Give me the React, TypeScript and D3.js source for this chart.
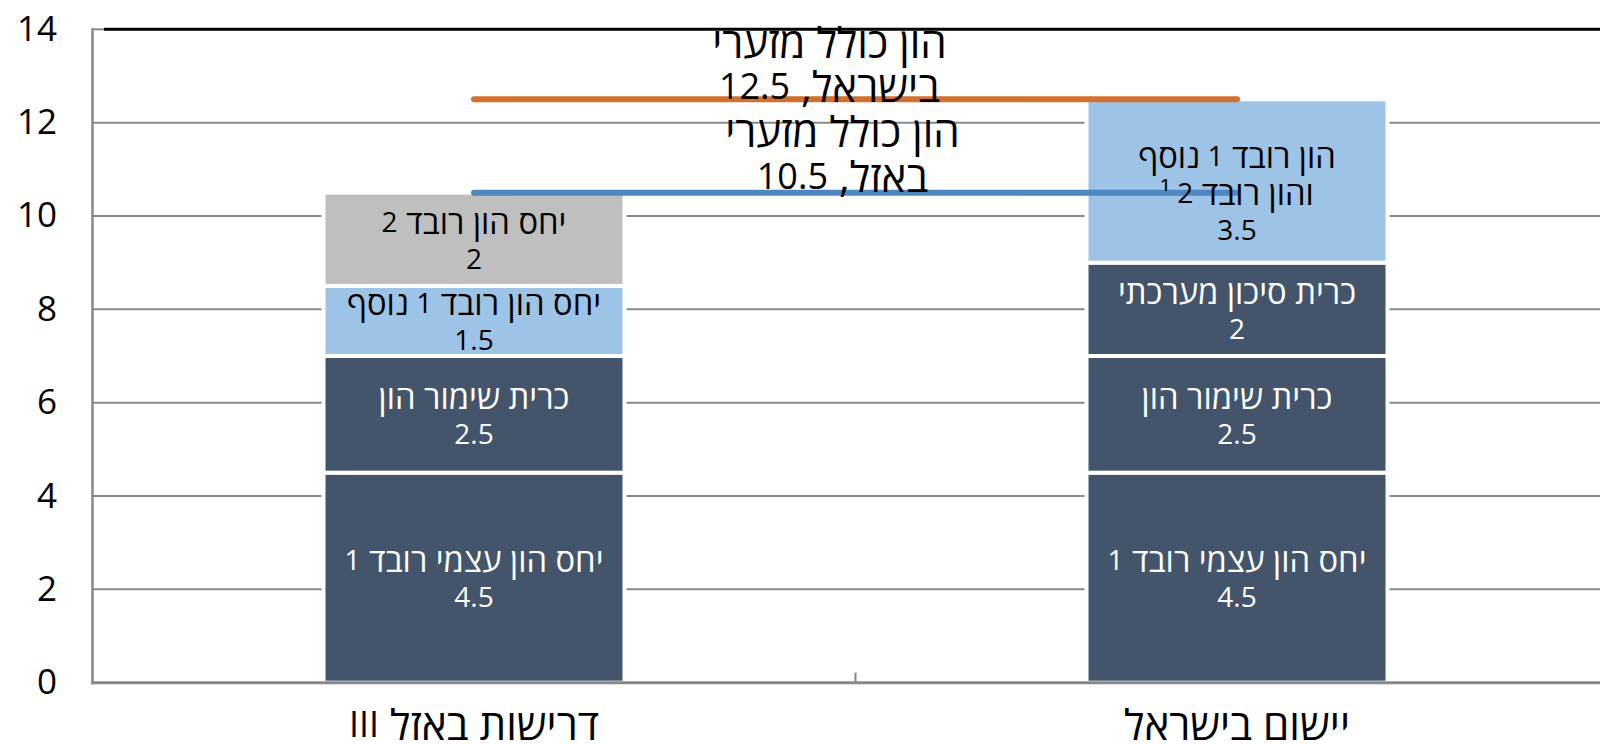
import React from "react";
import * as d3 from "d3";

const categories = ["דרישות באזל III", "יישום בישראל"];
const segmentsBasel = [4.5, 2.5, 1.5, 2];
const segmentsIsrael = [4.5, 2.5, 2, 3.5];
const labelsBasel = [
  ["יחס הון עצמי רובד 1", "4.5"],
  ["כרית שימור הון", "2.5"],
  ["יחס הון רובד 1 נוסף", "1.5"],
  ["יחס הון רובד 2", "2"],
];
const labelsIsrael = [
  ["יחס הון עצמי רובד 1", "4.5"],
  ["כרית שימור הון", "2.5"],
  ["כרית סיכון מערכתי", "2"],
  ["הון רובד 1 נוסף", "והון רובד 2 \u00B9", "3.5"],
];
const colorsBasel = ["#44546A", "#44546A", "#9DC3E6", "#BFBFBF"];
const colorsIsrael = ["#44546A", "#44546A", "#44546A", "#9DC3E6"];
const textColorsBasel = ["#fff", "#fff", "#000", "#000"];
const textColorsIsrael = ["#fff", "#fff", "#fff", "#000"];
const refValues = [12.5, 10.5];
const refLabels = [
  ["הון כולל מזערי", "בישראל, 12.5"],
  ["הון כולל מזערי", "באזל, 10.5"],
];
const refColors = ["#D2702F", "#4E88BF"];
const yTicks = [0, 2, 4, 6, 8, 10, 12, 14];

// label placement styles (offsets from the line's y / from the midpoint)
const refLabelDx = [-26, -13];
const refLabelDy = [
  [-58, -14],
  [-63, -18],
];

const W = 1600;
const H = 744;
const FONT = "'Open Sans', 'Liberation Sans', sans-serif";
const HEB_SCALE = 1.17;

function mixed(str: string, latinSize: number) {
  const parts = str.match(/[\u0590-\u05FF][\u0590-\u05FF ,]*|[^\u0590-\u05FF]+/g) || [str];
  return parts.map((p, i) => {
    const heb = /[\u0590-\u05FF]/.test(p);
    return (
      <tspan key={i} fontSize={heb ? latinSize * HEB_SCALE : latinSize}>
        {p}
      </tspan>
    );
  });
}

export default function App() {
  const y = d3.scaleLinear().domain([0, 14]).range([682.7, 29.3]);
  const x = d3
    .scaleBand<string>()
    .domain(categories)
    .range([92.5, 1618.5])
    .paddingInner(0.6055)
    .paddingOuter(0.30275);
  const bw = x.bandwidth();
  const stacks = [
    { cat: categories[0], vals: segmentsBasel, labels: labelsBasel, colors: colorsBasel, tc: textColorsBasel },
    { cat: categories[1], vals: segmentsIsrael, labels: labelsIsrael, colors: colorsIsrael, tc: textColorsIsrael },
  ];
  const c0 = (x(categories[0]) as number) + bw / 2;
  const c1 = (x(categories[1]) as number) + bw / 2;
  const mid = (c0 + c1) / 2;
  const lh = 37;

  return (
    <svg
      width={W}
      height={H}
      style={{ position: "absolute", left: 0, top: 0, fontFamily: FONT }}
    >
      <rect width={W} height={H} fill="#fff" />
      {yTicks.map((t) =>
        t === 0 || t === 14 ? null : (
          <line key={t} x1={92.5} x2={W} y1={y(t)} y2={y(t)} stroke="#888" strokeWidth={2} />
        )
      )}
      <line x1={104} x2={W} y1={y(14)} y2={y(14)} stroke="#000" strokeWidth={3} />
      <line x1={92.5} x2={104} y1={y(14)} y2={y(14)} stroke="#888" strokeWidth={2} />
      {stacks.map((s) => {
        let acc = 0;
        return (
          <g key={s.cat}>
            {s.vals.map((v, i) => {
              const y0 = acc;
              acc += v;
              return (
                <rect
                  key={i}
                  x={x(s.cat)}
                  y={y(y0 + v)}
                  width={bw}
                  height={y(y0) - y(y0 + v)}
                  fill={s.colors[i]}
                  stroke="#fff"
                  strokeWidth={4}
                />
              );
            })}
          </g>
        );
      })}
      <line x1={92.5} x2={92.5} y1={y(14) - 1} y2={y(0) + 1.5} stroke="#888" strokeWidth={2.5} />
      <line x1={91} x2={W} y1={y(0)} y2={y(0)} stroke="#888" strokeWidth={3} />
      <line x1={mid} x2={mid} y1={y(0)} y2={y(0) - 10} stroke="#888" strokeWidth={2} />
      {yTicks.map((t) => (
        <text
          key={t}
          x={57}
          y={y(t) - 2}
          textAnchor="end"
          dominantBaseline="central"
          fontSize={35}
          fill="#000"
        >
          {t}
        </text>
      ))}
      {refValues.map((v, k) => (
        <line
          key={v}
          x1={c0}
          x2={c1}
          y1={y(v)}
          y2={y(v)}
          stroke={refColors[k]}
          strokeWidth={6}
          strokeLinecap="round"
        />
      ))}
      {stacks.map((s) => {
        let acc = 0;
        const cx = (x(s.cat) as number) + bw / 2;
        return (
          <g key={s.cat + "l"}>
            {s.vals.map((v, i) => {
              const center = y(acc + v / 2);
              acc += v;
              const lines = s.labels[i];
              const n = lines.length;
              const shift = n === 3 ? 11 : 0;
              return lines.map((ln, j) => (
                <text
                  key={i + "-" + j}
                  x={cx}
                  y={center + shift + (j - (n - 1) / 2) * lh}
                  textAnchor="middle"
                  dominantBaseline="central"
                  direction="rtl"
                  fontSize={28}
                  fill={s.tc[i]}
                >
                  {mixed(ln, 28)}
                </text>
              ));
            })}
          </g>
        );
      })}
      {refValues.map((v, k) =>
        refLabels[k].map((ln, j) => (
          <text
            key={v + "-" + j}
            x={mid + refLabelDx[k]}
            y={y(v) + refLabelDy[k][j]}
            textAnchor="middle"
            dominantBaseline="central"
            direction="rtl"
            fontSize={36}
            fill="#000"
          >
            {mixed(ln, 36)}
          </text>
        ))
      )}
      {categories.map((c) => (
        <text
          key={c}
          x={(x(c) as number) + bw / 2}
          y={723}
          textAnchor="middle"
          dominantBaseline="central"
          direction="rtl"
          fontSize={36}
          fill="#000"
        >
          {mixed(c, 36)}
        </text>
      ))}
    </svg>
  );
}
